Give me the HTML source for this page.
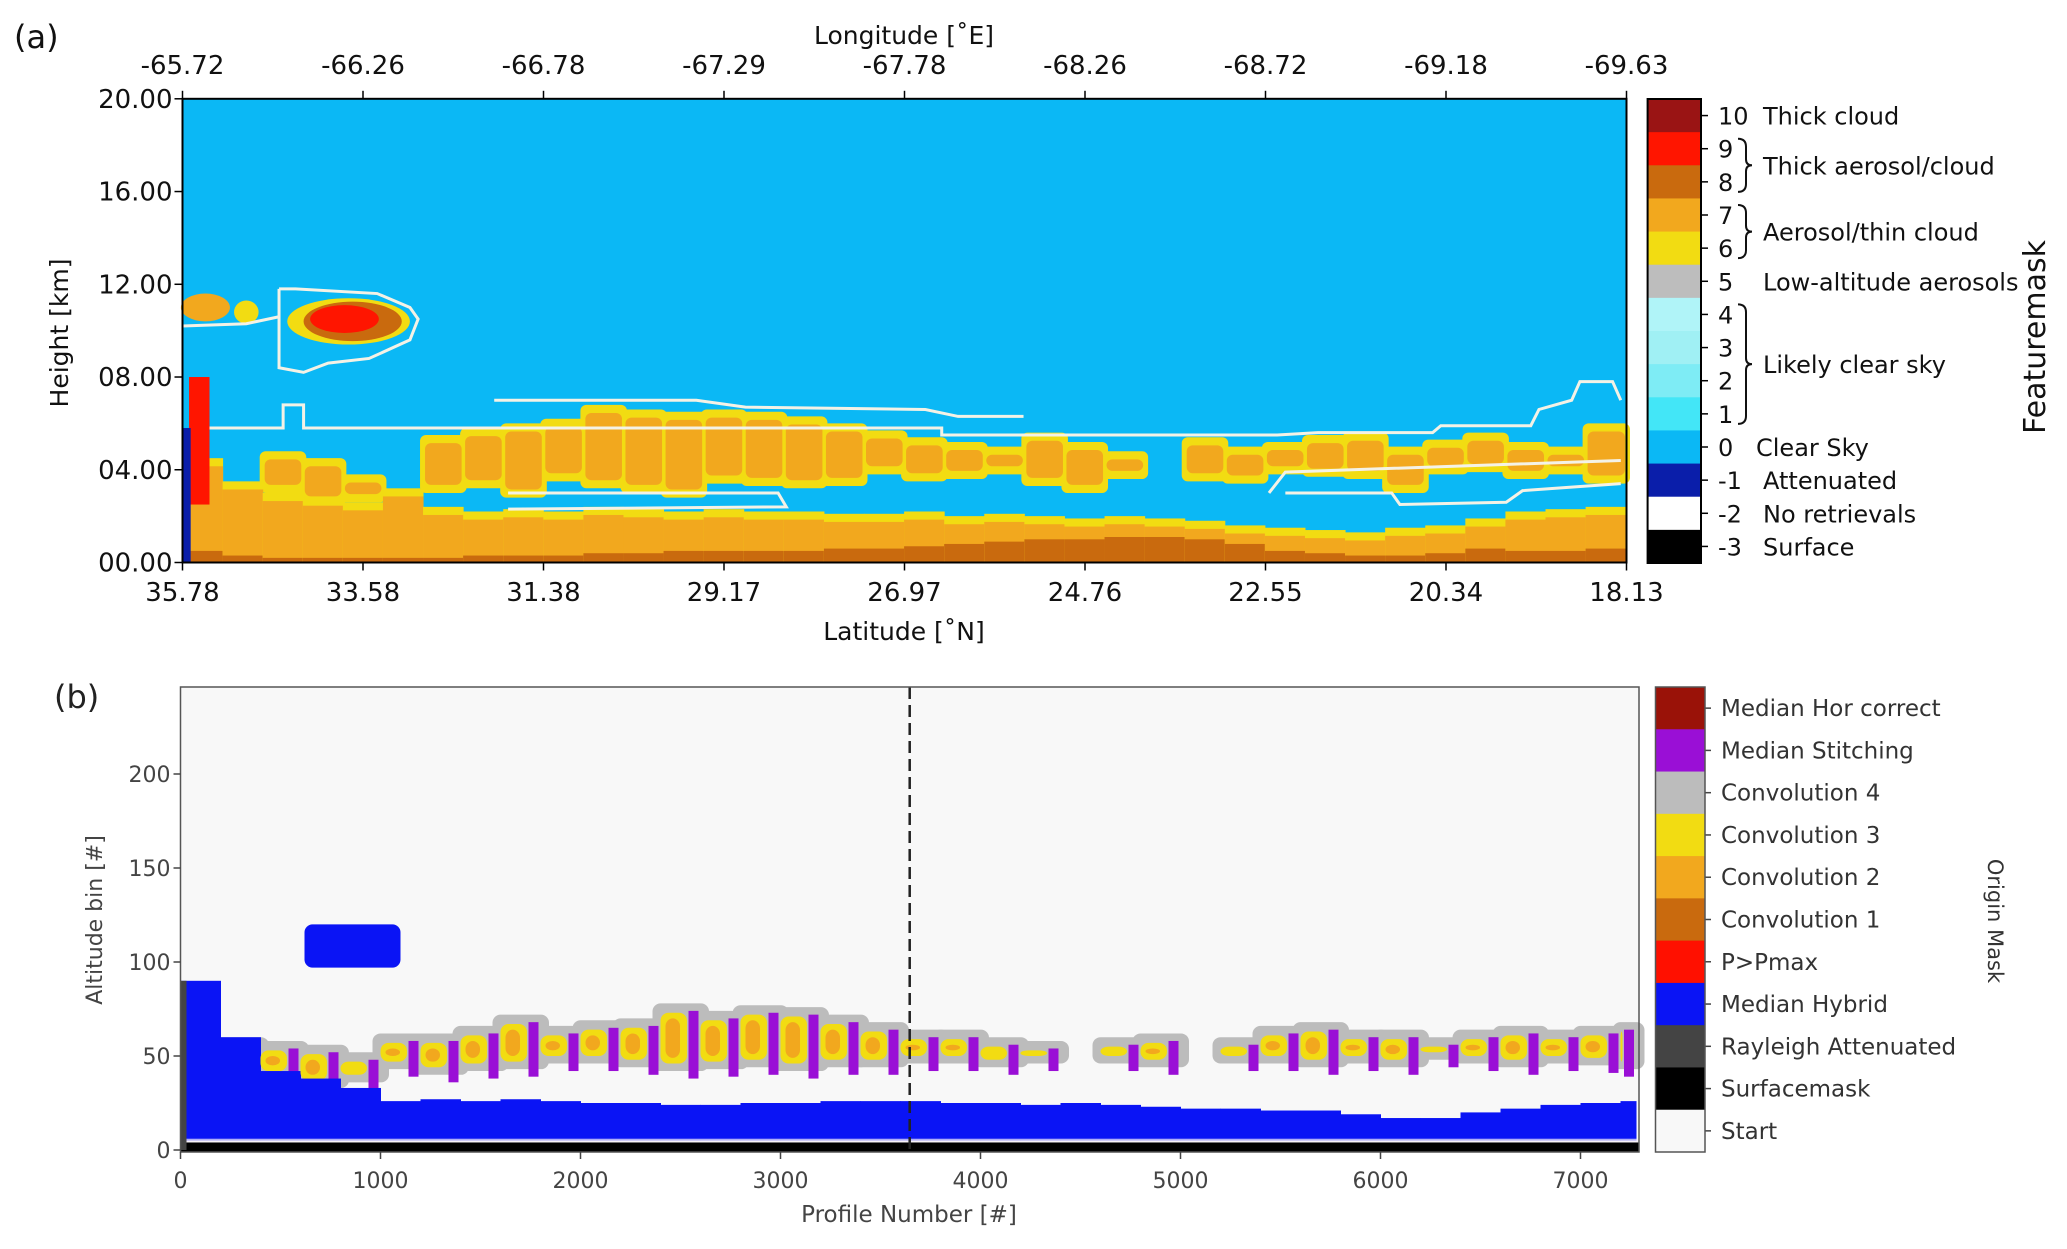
<!DOCTYPE html>
<html><head><meta charset="utf-8"><style>
html,body{margin:0;padding:0;background:#fff;}
svg{display:block;font-family:"DejaVu Sans","Liberation Sans",sans-serif;}
</style></head><body>
<svg id="fig" width="2067" height="1249" viewBox="0 0 2067 1249" xmlns="http://www.w3.org/2000/svg">
<g id="a-data"></g>
<g id="b-data"></g>
<g id="axes"></g>
</svg>
<script>
// ---------- Panel (a) data ----------
const latTicks = ["35.78","33.58","31.38","29.17","26.97","24.76","22.55","20.34","18.13"];
const lonTicks = ["-65.72","-66.26","-66.78","-67.29","-67.78","-68.26","-68.72","-69.18","-69.63"];
const heightTicks = [0,4,8,12,16,20];
const colLatStart = [35.78,35.29,34.80,34.31,33.82,33.33,32.84,32.35,31.86,31.37,30.88,30.39,29.90,29.41,28.92,28.43,27.94,27.45,26.96,26.47,25.98,25.49,25.00,24.51,24.02,23.53,23.04,22.55,22.06,21.57,21.08,20.59,20.10,19.61,19.12,18.63];
const blTop = [4.5,3.5,3.0,2.8,2.6,3.2,2.4,2.2,2.3,2.2,2.4,2.3,2.2,2.3,2.2,2.2,2.1,2.1,2.2,2.0,2.1,2.0,1.9,2.0,1.9,1.8,1.6,1.5,1.4,1.3,1.5,1.6,1.9,2.2,2.3,2.4];
const brownTop = [0.5,0.3,0.2,0.2,0.2,0.2,0.2,0.3,0.3,0.3,0.4,0.4,0.5,0.5,0.5,0.5,0.6,0.6,0.7,0.8,0.9,1.0,1.0,1.1,1.1,1.0,0.8,0.5,0.4,0.3,0.3,0.4,0.6,0.5,0.5,0.6];
const midBot = [0,0,3.0,2.5,2.6,0,3.0,3.2,2.8,3.5,3.2,3.0,2.8,3.4,3.3,3.2,3.3,3.8,3.5,3.6,3.8,3.3,3.0,3.6,0,3.5,3.4,3.8,3.7,3.6,3.0,3.8,3.9,3.6,3.8,3.4];
const midTop = [0,0,4.8,4.5,3.8,0,5.5,5.8,6.0,6.2,6.8,6.6,6.5,6.6,6.5,6.3,6.0,5.7,5.4,5.2,5.0,5.6,5.2,4.8,0,5.4,5.0,5.2,5.5,5.6,5.0,5.3,5.6,5.2,5.0,6.0];
const cloudLat = [33.75,33.7,33.8,35.5,35.0];
const cloudH = [10.4,10.4,10.5,11.0,10.8];
const cloudHalfLat = [0.75,0.6,0.42,0.3,0.15];
const cloudHalfH = [1.0,0.85,0.6,0.6,0.5];
const cloudClass = [6,8,9,7,6];
const contour1 = [[35.45,5.8],[34.55,5.8],[34.55,6.8],[34.3,6.8],[34.3,5.8],[26.5,5.8],[26.5,5.5],[22.4,5.5],[21.9,5.6],[20.5,5.6],[20.4,5.9],[19.3,5.9],[19.2,6.6],[18.8,7.0],[18.7,7.8],[18.3,7.8],[18.2,7.0]];
const contour2 = [[31.97,7.0],[29.5,7.0],[28.9,6.7],[26.7,6.6],[26.3,6.3],[25.5,6.3]];
const contour3 = [[31.8,3.0],[28.5,3.0],[28.4,2.4],[31.8,2.3]];
const contour4 = [[22.5,3.0],[22.3,3.9],[18.2,4.4]];
const contour5 = [[22.3,3.0],[21.0,3.0],[20.9,2.5],[19.6,2.6],[19.4,3.1],[18.2,3.4]];
const contour6 = [[34.6,11.8],[34.6,8.4],[34.3,8.2],[34.0,8.6],[33.5,8.8],[33.0,9.6],[32.9,10.5],[33.0,11.0],[33.4,11.6],[34.4,11.8],[34.6,11.8]];
const contour7 = [[35.78,10.2],[35.0,10.3],[34.6,10.6]];
const fmLevels = [10,9,8,7,6,5,4,3,2,1,0,-1,-2,-3];
const fmColors = ["#9a1414","#ff1500","#c96a0e","#f2a81e","#f2dc12","#bdbdbd","#b0f4f8","#a0f0f4","#7eecf5","#43e6f7","#0bb8f5","#0a1eaa","#ffffff","#000000"];

// ---------- Panel (b) data ----------
const profTicks = [0,1000,2000,3000,4000,5000,6000,7000];
const binTicks = [0,50,100,150,200];
const colProfStart = [0,200,400,600,800,1000,1200,1400,1600,1800,2000,2200,2400,2600,2800,3000,3200,3400,3600,3800,4000,4200,4400,4600,4800,5000,5200,5400,5600,5800,6000,6200,6400,6600,6800,7000,7200];
const blueTop = [90,60,42,38,33,26,27,26,27,26,25,25,24,24,25,25,26,26,26,25,25,24,25,24,23,22,22,21,21,19,17,17,20,22,24,25,26];
const bMidBot = [0,48,40,35,38,45,42,44,45,48,48,46,44,45,46,44,46,46,48,48,46,48,0,48,46,0,48,48,46,48,46,50,48,46,48,47,45];
const bMidTop = [0,58,56,54,50,60,60,64,70,64,67,68,76,72,75,74,70,66,62,62,58,56,0,58,60,0,58,64,66,62,62,58,62,64,62,64,66];
const blobProf = [620,1100];
const blobBins = [97,120];
const dashedProfile = 3646;
const omLabels = ["Median Hor correct","Median Stitching","Convolution 4","Convolution 3","Convolution 2","Convolution 1","P>Pmax","Median Hybrid","Rayleigh Attenuated","Surfacemask","Start"];
const omColors = ["#9a1208","#9a0fd6","#bcbcbc","#f2dc12","#f2a81e","#c96a0e","#ff1000","#0a14f5","#444444","#000000","#f8f8f8"];

// ---------- helpers ----------
const NS="http://www.w3.org/2000/svg";
function mk(tag, attrs, parent){const e=document.createElementNS(NS,tag);for(const k in attrs)e.setAttribute(k,attrs[k]);parent.appendChild(e);return e;}
const A = document.getElementById('a-data'), B = document.getElementById('b-data'), AX=document.getElementById('axes');
const aL=182.5,aR=1626.5,aT=98.8,aB=562.5;
const xA = lat => aL + (35.78-lat)/(35.78-18.13)*(aR-aL);
const yA = km => aB - km/20*(aB-aT);
const bL=180.5,bR=1639,bT=687,bB=1152;
const xB = p => bL + p*0.2;
const yB = bin => 1150 - bin*1.88;
const fmColor = v => fmColors[fmLevels.indexOf(v)];

// ---------- Panel (a) marks ----------
let e;
e=mk('rect',{x:aL,y:aT,width:aR-aL,height:aB-aT,fill:fmColor(0)},A);

for(let i=0;i<colLatStart.length;i++){
  const x0=xA(colLatStart[i]), x1=(i+1<colLatStart.length)?xA(colLatStart[i+1]):aR, w=x1-x0+0.5;
  if(midTop[i]>0){
    e=mk('rect',{x:x0-3,y:yA(midTop[i]),width:w+6,height:yA(midBot[i])-yA(midTop[i]),rx:6,fill:fmColor(6)},A);
    
  }
}
for(let i=0;i<colLatStart.length;i++){
  const x0=xA(colLatStart[i]), x1=(i+1<colLatStart.length)?xA(colLatStart[i+1]):aR, w=x1-x0+0.5;
  if(midTop[i]>0){
    const ob=midBot[i]+0.35, ot=midTop[i]-0.35;
    if(ot>ob){e=mk('rect',{x:x0+2,y:yA(ot),width:w-4,height:yA(ob)-yA(ot),rx:6,fill:fmColor(7)},A);
    }
  }
  e=mk('rect',{x:x0,y:yA(blTop[i]),width:w,height:yA(0)-yA(blTop[i]),fill:fmColor(6)},A);
  
  const oT=Math.max(blTop[i]-0.35,0);
  e=mk('rect',{x:x0,y:yA(oT),width:w,height:yA(0)-yA(oT),fill:fmColor(7)},A);
  
  e=mk('rect',{x:x0,y:yA(brownTop[i]),width:w,height:yA(0)-yA(brownTop[i]),fill:fmColor(8)},A);
  
}
e=mk('rect',{x:xA(35.7),y:yA(8),width:xA(35.45)-xA(35.7),height:yA(2.5)-yA(8),fill:fmColor(9)},A);

e=mk('rect',{x:xA(35.78),y:yA(5.8),width:xA(35.68)-xA(35.78),height:yA(0)-yA(5.8),fill:fmColor(-1)},A);

for(let i=0;i<cloudLat.length;i++){
  const cx=xA(cloudLat[i]), cy=yA(cloudH[i]);
  e=mk('ellipse',{cx:cx,cy:cy,rx:Math.abs(xA(cloudLat[i]+cloudHalfLat[i])-cx),ry:Math.abs(yA(cloudH[i]+cloudHalfH[i])-cy),fill:fmColor(cloudClass[i])},A);
  
}
[contour1,contour2,contour3,contour4,contour5,contour6,contour7].forEach(c=>{
  e=mk('polyline',{points:c.map(p=>xA(p[0])+','+yA(p[1])).join(' '),fill:'none',stroke:'#f4f2e6','stroke-width':3},A);
  
});
e=mk('rect',{x:aL,y:aT,width:aR-aL,height:aB-aT,fill:'none',stroke:'#000','stroke-width':2},A);


function txt(s,attrs,parent,name){const t=mk('text',attrs,parent);t.textContent=s;return t;}
latTicks.forEach((s,i)=>{
  const x=aL+i*(aR-aL)/(latTicks.length-1);
  e=mk('line',{x1:x,y1:aB,x2:x,y2:aB+8,stroke:'#000','stroke-width':1.5},AX);
  
  txt(s,{x:x,y:601,'text-anchor':'middle','font-size':26,fill:'#111'},AX,'lat-tick-label');
});
lonTicks.forEach((s,i)=>{
  const x=aL+i*(aR-aL)/(lonTicks.length-1);
  e=mk('line',{x1:x,y1:aT,x2:x,y2:aT-8,stroke:'#000','stroke-width':1.5},AX);
  
  txt(s,{x:x,y:74,'text-anchor':'middle','font-size':26,fill:'#111'},AX,'lon-tick-label');
});
heightTicks.forEach(v=>{
  const y=yA(v);
  e=mk('line',{x1:aL,y1:y,x2:aL-8,y2:y,stroke:'#000','stroke-width':1.5},AX);
  
  txt((v<10?'0':'')+v.toFixed(2),{x:aL-10,y:y+9,'text-anchor':'end','font-size':26,fill:'#111'},AX,'height-tick-label');
});
txt('Longitude  [˚E]',{x:904,y:44,'text-anchor':'middle','font-size':25,fill:'#111'},AX,'x-top-axis-title');
txt('Latitude  [˚N]',{x:904,y:640,'text-anchor':'middle','font-size':25,fill:'#111'},AX,'x-axis-title');
txt('Height [km]',{x:0,y:0,'text-anchor':'middle','font-size':25,fill:'#111',transform:'translate(68,333) rotate(-90)'},AX,'y-axis-title');
txt('(a)',{x:14,y:48,'font-size':32,fill:'#111'},AX,'panel-a-label');

const cbX=1647.6,cbW=53.4,cbT=99,cbH=(563-99)/fmLevels.length;
fmLevels.forEach((v,i)=>{
  e=mk('rect',{x:cbX,y:cbT+i*cbH,width:cbW,height:cbH+0.5,fill:fmColors[i]},AX);
  
  const y=cbT+(i+0.5)*cbH;
  e=mk('line',{x1:cbX+cbW,y1:y,x2:cbX+cbW+7,y2:y,stroke:'#000','stroke-width':1.5},AX);
  
  txt(String(v),{x:1718,y:y+9,'font-size':24,fill:'#111'},AX,'featuremask-tick-label');
});
e=mk('rect',{x:cbX,y:cbT,width:cbW,height:cbH*fmLevels.length,fill:'none',stroke:'#000','stroke-width':2},AX);

const cy = v => cbT+(fmLevels.indexOf(v)+0.5)*cbH;
txt('Thick cloud',{x:1763,y:cy(10)+9,'font-size':24,fill:'#111'},AX,'legend-thick-cloud');
txt('Thick aerosol/cloud',{x:1763,y:(cy(9)+cy(8))/2+9,'font-size':24,fill:'#111'},AX,'legend-thick-aerosol');
txt('Aerosol/thin cloud',{x:1763,y:(cy(7)+cy(6))/2+9,'font-size':24,fill:'#111'},AX,'legend-aerosol-thin-cloud');
txt('Low-altitude aerosols',{x:1763,y:cy(5)+9,'font-size':24,fill:'#111'},AX,'legend-low-altitude');
txt('Likely clear sky',{x:1763,y:(cy(3)+cy(2))/2+9,'font-size':24,fill:'#111'},AX,'legend-likely-clear');
txt('Clear Sky',{x:1756,y:cy(0)+9,'font-size':24,fill:'#111'},AX,'legend-clear-sky');
txt('Attenuated',{x:1763,y:cy(-1)+9,'font-size':24,fill:'#111'},AX,'legend-attenuated');
txt('No retrievals',{x:1763,y:cy(-2)+9,'font-size':24,fill:'#111'},AX,'legend-no-retrievals');
txt('Surface',{x:1763,y:cy(-3)+9,'font-size':24,fill:'#111'},AX,'legend-surface');
function brace(y0,y1){const m=(y0+y1)/2,x=1738;
  return `M${x},${y0} q8,0 8,8 L${x+8},${m-6} q0,6 6,6 q-6,0 -6,6 L${x+8},${y1-8} q0,8 -8,8`;}
[[cy(9)-10,cy(8)+10],[cy(7)-10,cy(6)+10],[cy(4)-10,cy(1)+10]].forEach(p=>{
  e=mk('path',{d:brace(p[0],p[1]),fill:'none',stroke:'#111','stroke-width':2},AX);
  
});
txt('Featuremask',{x:0,y:0,'text-anchor':'middle','font-size':30,fill:'#111',transform:'translate(2045,337) rotate(-90)'},AX,'colorbar-a-title');

// ---------- Panel (b) marks ----------
e=mk('rect',{x:bL,y:bT,width:bR-bL,height:bB-bT,fill:'#f8f8f8'},B);

for(let i=0;i<colProfStart.length;i++){
  const x0=xB(colProfStart[i]), x1=(i+1<colProfStart.length)?xB(colProfStart[i+1]):bR-3, w=x1-x0+0.5;
  if(bMidTop[i]>0){
    const b0=bMidBot[i],b1=bMidTop[i];
    e=mk('rect',{x:x0-8,y:yB(b1+2),width:w+16,height:yB(b0-2)-yB(b1+2),rx:8,fill:omColors[2]},B);
    
  }
}
for(let i=0;i<colProfStart.length;i++){
  const x0=xB(colProfStart[i]), x1=(i+1<colProfStart.length)?xB(colProfStart[i+1]):bR-3, w=x1-x0+0.5;
  if(bMidTop[i]>0){
    const b0=bMidBot[i],b1=bMidTop[i];
    e=mk('rect',{x:x1-12,y:yB(b1-2),width:10,height:yB(b0-6)-yB(b1-2),fill:omColors[1]},B);
    
    e=mk('rect',{x:x0,y:yB(b1-3),width:w-14,height:yB(b0+2)-yB(b1-3),rx:8,fill:omColors[3]},B);
    
    if(b1-b0>12){e=mk('rect',{x:x0+5,y:yB(b1-6),width:w-26,height:yB(b0+5)-yB(b1-6),rx:8,fill:omColors[4]},B);
    }
  }
  e=mk('rect',{x:x0,y:yB(blueTop[i]),width:w,height:yB(5)-yB(blueTop[i]),fill:omColors[7]},B);
  
}
e=mk('rect',{x:xB(blobProf[0]),y:yB(blobBins[1]),width:xB(blobProf[1])-xB(blobProf[0]),height:yB(blobBins[0])-yB(blobBins[1]),rx:8,fill:omColors[7]},B);

e=mk('rect',{x:bL,y:yB(6),width:bR-bL,height:yB(4)-yB(6),fill:'#f6f0f8',opacity:0.7},B);

e=mk('rect',{x:bL,y:yB(4),width:bR-bL,height:yB(-1)-yB(4),fill:omColors[9]},B);

e=mk('rect',{x:bL,y:yB(90),width:xB(30)-bL,height:yB(0)-yB(90),fill:omColors[8]},B);

e=mk('line',{x1:xB(dashedProfile),y1:bT,x2:xB(dashedProfile),y2:bB,stroke:'#222','stroke-width':2.5,'stroke-dasharray':'12,6'},B);

e=mk('rect',{x:bL,y:bT,width:bR-bL,height:bB-bT,fill:'none',stroke:'#555','stroke-width':1.5},B);


profTicks.forEach(v=>{
  const x=xB(v);
  e=mk('line',{x1:x,y1:bB,x2:x,y2:bB+7,stroke:'#444','stroke-width':1.5},AX);
  
  txt(String(v),{x:x,y:1188,'text-anchor':'middle','font-size':22,fill:'#444'},AX,'profile-tick-label');
});
binTicks.forEach(v=>{
  const y=yB(v);
  e=mk('line',{x1:bL,y1:y,x2:bL-7,y2:y,stroke:'#444','stroke-width':1.5},AX);
  
  txt(String(v),{x:bL-10,y:y+8,'text-anchor':'end','font-size':22,fill:'#444'},AX,'bin-tick-label');
});
txt('Profile Number [#]',{x:909,y:1222,'text-anchor':'middle','font-size':23,fill:'#444'},AX,'x-axis-title-b');
txt('Altitude bin [#]',{x:0,y:0,'text-anchor':'middle','font-size':22,fill:'#444',transform:'translate(102,920) rotate(-90)'},AX,'y-axis-title-b');
txt('(b)',{x:54,y:708,'font-size':32,fill:'#222'},AX,'panel-b-label');

const ocX=1655.5,ocW=49.5,ocT=687,ocH=(1152-687)/omLabels.length;
omLabels.forEach((s,i)=>{
  e=mk('rect',{x:ocX,y:ocT+i*ocH,width:ocW,height:ocH+0.5,fill:omColors[i]},AX);
  
  const y=ocT+(i+0.5)*ocH;
  e=mk('line',{x1:ocX+ocW,y1:y,x2:ocX+ocW+6,y2:y,stroke:'#444','stroke-width':1.5},AX);
  
  txt(s,{x:1721,y:y+8,'font-size':23,fill:'#333'},AX,'origin-mask-label');
});
e=mk('rect',{x:ocX,y:ocT,width:ocW,height:ocH*omLabels.length,fill:'none',stroke:'#555','stroke-width':1.5},AX);

txt('Origin Mask',{x:0,y:0,'text-anchor':'middle','font-size':21,fill:'#333',transform:'translate(1988,921) rotate(90)'},AX,'colorbar-b-title');
</script>
</body></html>
